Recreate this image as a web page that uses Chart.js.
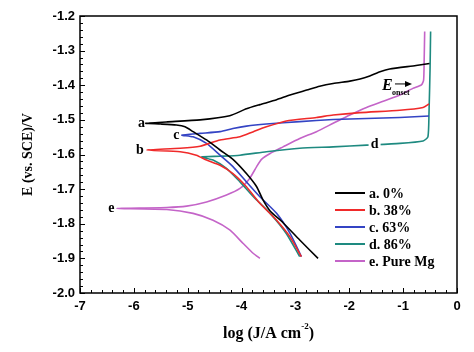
<!DOCTYPE html>
<html>
<head>
<meta charset="utf-8">
<script src="https://cdn.jsdelivr.net/npm/chart.js@4.4.1/dist/chart.umd.min.js"></script>
<style>
  html, body { margin: 0; padding: 0; background: #fff; }
  #wrap { width: 474px; height: 352px; }
</style>
</head>
<body>
<div id="wrap"><canvas id="tafel"></canvas></div>
<script>
// Tafel curves, each traced from the cathodic end through Ecorr to the anodic end
const aX = [-2.58, -2.92, -3.23, -3.47, -3.60, -3.72, -3.91, -4.16, -4.40, -4.65, -4.90, -5.05, -5.21, -5.50, -5.78,
            -5.40, -4.77, -4.22, -3.91, -3.66, -3.35, -3.10, -2.79, -2.55, -2.30, -1.99, -1.80, -1.62, -1.43, -1.25, -0.76, -0.51];
const aY = [-1.900, -1.847, -1.797, -1.763, -1.732, -1.693, -1.655, -1.614, -1.587, -1.558, -1.534, -1.520, -1.515, -1.512, -1.510,
            -1.506, -1.500, -1.488, -1.468, -1.456, -1.442, -1.428, -1.414, -1.403, -1.395, -1.388, -1.382, -1.373, -1.361, -1.353, -1.343, -1.337];

const bX = [-2.89, -3.10, -3.35, -3.66, -3.91, -4.16, -4.40, -4.65, -4.84, -5.14, -5.76,
            -5.14, -4.77, -4.40, -4.03, -3.78, -3.54, -3.17, -2.61, -2.30, -1.80, -1.06, -0.63, -0.52];
const bY = [-1.895, -1.838, -1.790, -1.741, -1.693, -1.655, -1.631, -1.616, -1.602, -1.592, -1.587,
            -1.582, -1.576, -1.558, -1.549, -1.534, -1.520, -1.503, -1.493, -1.486, -1.479, -1.472, -1.464, -1.454];

const cX = [-2.89, -3.10, -3.35, -3.66, -3.91, -4.16, -4.40, -4.65, -4.90, -5.11,
            -4.77, -4.40, -4.16, -3.91, -3.54, -2.92, -2.30, -1.68, -1.06, -0.52];
const cY = [-1.895, -1.828, -1.770, -1.722, -1.679, -1.635, -1.602, -1.568, -1.549, -1.544,
            -1.539, -1.534, -1.525, -1.518, -1.512, -1.505, -1.499, -1.496, -1.493, -1.489];

const dX = [-2.92, -3.17, -3.47, -3.78, -4.03, -4.28, -4.53, -4.74,
            -4.40, -4.03, -3.54, -2.92, -2.30, -1.68, -1.06, -0.63, -0.54, -0.52, -0.50, -0.49];
const dY = [-1.895, -1.828, -1.770, -1.722, -1.679, -1.640, -1.616, -1.607,
            -1.605, -1.602, -1.592, -1.582, -1.578, -1.573, -1.568, -1.561, -1.549, -1.480, -1.350, -1.245];

const eX = [-3.66, -3.78, -3.97, -4.22, -4.53, -4.90, -5.39, -6.32,
            -5.39, -5.02, -4.65, -4.28, -4.03, -3.85, -3.72, -3.63, -3.47, -3.23, -2.92, -2.61, -2.30, -1.99, -1.68, -1.37, -1.06, -0.82, -0.66, -0.62, -0.61, -0.60];
const eY = [-1.900, -1.886, -1.857, -1.818, -1.790, -1.770, -1.759, -1.756,
            -1.753, -1.749, -1.737, -1.717, -1.698, -1.669, -1.635, -1.614, -1.597, -1.578, -1.554, -1.534, -1.510, -1.486, -1.464, -1.446, -1.428, -1.409, -1.399, -1.385, -1.330, -1.245];

const seriesNames = ['a. 0%', 'b. 38%', 'c. 63%', 'd. 86%', 'e. Pure Mg'];
const curveTags = ['a', 'b', 'c', 'd', 'e'];
const seriesColors = ['#000000', '#f02a2a', '#3444c4', '#1e8a80', '#c464c8'];

const xTicks = [-7, -6, -5, -4, -3, -2, -1, 0];
const yTicks = [-2.0, -1.9, -1.8, -1.7, -1.6, -1.5, -1.4, -1.3, -1.2];

const curves = [[aX, aY], [bX, bY], [cX, cY], [dX, dY], [eX, eY]];

function toPoints(xs, ys) {
  return xs.map((x, i) => ({ x: x, y: ys[i] }));
}

const datasets = curves.map((c, i) => ({
  label: seriesNames[i],
  data: toPoints(c[0], c[1]),
  showLine: true,
  borderColor: seriesColors[i],
  backgroundColor: seriesColors[i],
  borderWidth: 1.6,
  pointRadius: 0,
  tension: 0.2
}));

// frame, inside ticks, titles, curve tags and legend
const decorPlugin = {
  id: 'decor',
  afterDatasetsDraw(chart) {
    const ctx = chart.ctx;
    const area = chart.chartArea;
    const xs = chart.scales.x;
    const ys = chart.scales.y;
    ctx.save();

    // minor / major ticks pointing inward
    ctx.strokeStyle = '#000';
    ctx.lineWidth = 1;
    for (let k = 0; k <= 35; k++) {
      const v = -7 + k * 0.2;
      const px = Math.round(xs.getPixelForValue(v)) + 0.5;
      const len = (k % 5 === 0) ? 5 : 3;
      ctx.beginPath();
      ctx.moveTo(px, area.bottom);
      ctx.lineTo(px, area.bottom - len);
      ctx.stroke();
    }
    for (let k = 0; k <= 40; k++) {
      const v = -2.0 + k * 0.02;
      const py = Math.round(ys.getPixelForValue(v)) + 0.5;
      const len = (k % 5 === 0) ? 5 : 3;
      ctx.beginPath();
      ctx.moveTo(area.left, py);
      ctx.lineTo(area.left + len, py);
      ctx.stroke();
    }

    // frame
    ctx.lineWidth = 1.5;
    ctx.strokeRect(area.left, area.top, area.right - area.left, area.bottom - area.top);

    // curve tags
    ctx.font = 'bold 14px "Liberation Serif", "Times New Roman", serif';
    ctx.textAlign = 'center';
    ctx.textBaseline = 'middle';
    const tagPos = [[-5.86, -1.510], [-5.89, -1.587], [-5.21, -1.544], [-1.53, -1.572], [-6.42, -1.756]];
    tagPos.forEach((p, i) => {
      const px = xs.getPixelForValue(p[0]);
      const py = ys.getPixelForValue(p[1]);
      if (curveTags[i] === 'd') {
        ctx.fillStyle = '#fff';
        ctx.fillRect(px - 6, py - 6, 12, 12);
      }
      ctx.fillStyle = '#000';
      ctx.fillText(curveTags[i], px, py);
    });

    // E onset marker
    const ex = xs.getPixelForValue(-1.30);
    const ey = ys.getPixelForValue(-1.402);
    ctx.font = 'italic bold 16px "Liberation Serif", "Times New Roman", serif';
    ctx.textAlign = 'left';
    ctx.fillText('E', ex - 5, ey);
    ctx.font = 'bold 8px "Liberation Serif", "Times New Roman", serif';
    ctx.fillText('onset', ex + 5, ey + 7);
    const ax0 = ex + 8, ax1 = ex + 25, ay = ey - 2;
    ctx.lineWidth = 1;
    ctx.beginPath();
    ctx.moveTo(ax0, ay);
    ctx.lineTo(ax1 - 4, ay);
    ctx.stroke();
    ctx.beginPath();
    ctx.moveTo(ax1, ay);
    ctx.lineTo(ax1 - 7, ay - 3);
    ctx.lineTo(ax1 - 7, ay + 3);
    ctx.closePath();
    ctx.fill();

    // legend inside plot
    ctx.font = 'bold 14px "Liberation Serif", "Times New Roman", serif';
    ctx.textBaseline = 'middle';
    const lx = area.left + 255;
    const ly = area.top + 177;
    seriesNames.forEach((name, i) => {
      const y = ly + i * 17;
      ctx.strokeStyle = seriesColors[i];
      ctx.lineWidth = 2;
      ctx.beginPath();
      ctx.moveTo(lx, y);
      ctx.lineTo(lx + 30, y);
      ctx.stroke();
      ctx.fillStyle = '#000';
      ctx.fillText(name, lx + 34, y + 1);
    });

    // axis titles
    ctx.fillStyle = '#000';
    const cx = (area.left + area.right) / 2;
    const t1 = 'log (J/A cm';
    const t2 = ')';
    ctx.font = 'bold 16px "Liberation Serif", serif';
    const w1 = ctx.measureText(t1).width;
    const w3 = ctx.measureText(t2).width;
    ctx.font = 'bold 9px "Liberation Serif", serif';
    const w2 = ctx.measureText('-2').width;
    const sx = cx - (w1 + w2 + w3) / 2;
    const ty = 334;
    ctx.textAlign = 'left';
    ctx.font = 'bold 16px "Liberation Serif", serif';
    ctx.fillText(t1, sx, ty);
    ctx.font = 'bold 9px "Liberation Serif", serif';
    ctx.fillText('-2', sx + w1, ty - 7);
    ctx.font = 'bold 16px "Liberation Serif", serif';
    ctx.fillText(t2, sx + w1 + w2, ty);

    ctx.translate(28, (area.top + area.bottom) / 2);
    ctx.rotate(-Math.PI / 2);
    ctx.textAlign = 'center';
    ctx.font = 'bold 14px "Liberation Serif", serif';
    ctx.fillText('E (vs. SCE)/V', 0, 0);

    ctx.restore();
  }
};

new Chart(document.getElementById('tafel'), {
  type: 'scatter',
  data: { datasets: datasets },
  plugins: [decorPlugin],
  options: {
    responsive: true,
    maintainAspectRatio: false,
    animation: false,
    layout: { padding: { top: 16, right: 17, left: 0, bottom: 0 } },
    plugins: {
      legend: { display: false },
      tooltip: { enabled: false }
    },
    scales: {
      x: {
        type: 'linear',
        min: -7,
        max: 0,
        afterFit: (s) => { s.height = 59; },
        afterBuildTicks: (s) => { s.ticks = xTicks.map(v => ({ value: v })); },
        grid: { display: false, drawTicks: false },
        border: { display: false },
        ticks: {
          padding: 6,
          color: '#000',
          font: { family: '"Liberation Sans", Arial, sans-serif', size: 13, weight: 'bold' },
          callback: (v) => String(v)
        }
      },
      y: {
        type: 'linear',
        min: -2.0,
        max: -1.2,
        afterFit: (s) => { s.width = 80; },
        afterBuildTicks: (s) => { s.ticks = yTicks.map(v => ({ value: v })); },
        grid: { display: false, drawTicks: false },
        border: { display: false },
        ticks: {
          padding: 5,
          color: '#000',
          font: { family: '"Liberation Sans", Arial, sans-serif', size: 13, weight: 'bold' },
          callback: (v) => v.toFixed(1)
        }
      }
    }
  }
});
</script>
</body>
</html>
